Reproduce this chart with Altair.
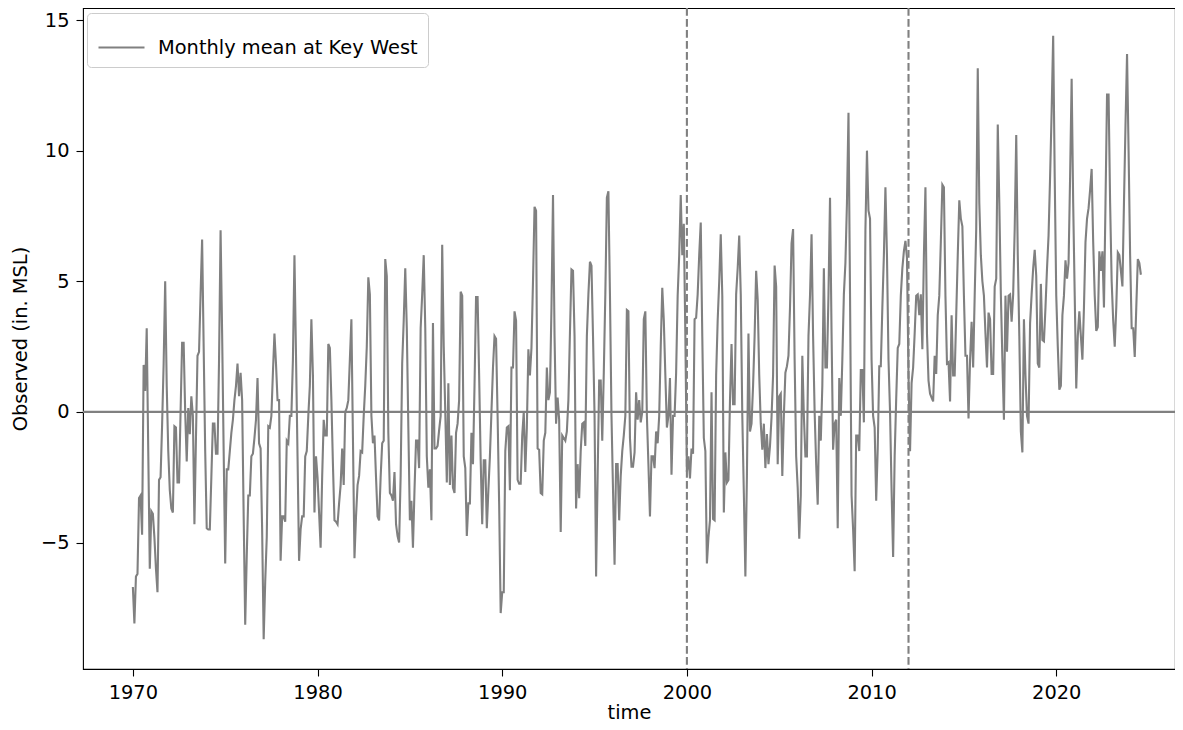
import altair as alt
import pandas as pd

# Monthly mean sea level at Key West (inches relative to MSL)
obs_1970s = [
    -6.7, -8.1, -6.3, -6.2, -3.3, -3.2, -4.7, 1.8, 0.8, 3.2, -1.5, -6.0,
    -3.8, -3.9, -4.8, -6.0, -6.9, -2.6, -2.5, -0.5, 1.85, 5.0, 1.0, -1.5,
    -3.0, -3.7, -3.85, -0.55, -0.6, -2.7, -2.7, 0.0, 2.65, 2.65, 0.0, -1.9,
    0.15, -0.85, 0.6, -0.15, -4.3, -1.0, 2.15, 2.3, 4.5, 6.6, 2.5, -1.5,
    -4.45, -4.5, -4.5, -2.5, -0.45, -0.45, -1.6, -1.6, 2.0, 6.95, 3.0, -1.5,
    -5.8, -2.2, -2.2, -1.5, -0.8, -0.3, 0.45, 1.0, 1.85, 0.6, 1.5, 0.45,
    -4.0, -8.15, -5.5, -3.2, -3.2, -1.7, -1.6, -1.0, -0.3, 1.3, -1.2, -1.4,
    -4.5, -8.7, -6.5, -4.8, -0.55, -0.6, -0.15, 1.5, 3.0, 1.85, 0.45, 0.45,
    -5.7, -4.0, -4.0, -4.2, -1.1, -1.2, -0.15, -0.15, 2.0, 6.0, 2.2, -1.7,
    -5.7, -4.5, -4.0, -4.0, -1.7, -1.5, -0.15, 1.0, 3.55, 1.4, -3.85, -1.7,
]
obs_1980s = [
    -2.5, -3.85, -5.2, -2.5, -0.3, -0.9, -0.9, 2.6, 2.45, 0.45, -2.0, -4.15,
    -4.2, -4.3, -3.5, -2.8, -1.4, -2.8, 0.0, 0.15, 0.45, 2.0, 3.55, -1.0,
    -5.6, -4.0, -2.8, -2.45, -1.5, -1.55, -0.15, 1.0, 2.5, 5.15, 4.5, -0.15,
    -1.2, -0.9, -2.5, -4.0, -4.15, -2.5, -1.2, -1.1, 5.85, 5.2, -0.8, -3.1,
    -3.2, -3.4, -2.3, -4.3, -4.75, -5.0, -2.45, 1.85, 3.5, 5.5, 3.2, -0.6,
    -4.15, -3.4, -5.2, -3.0, -1.1, -1.1, -2.15, 3.2, 4.5, 6.0, 3.2, -1.7,
    -2.9, -2.2, -4.15, 3.4, -1.4, -1.4, -1.3, -0.7, -0.15, 6.4, 2.5, 0.0,
    -2.7, 1.1, -2.8, -0.9, -2.9, -3.1, -0.8, -0.45, 0.45, 4.6, 4.45, -1.7,
    -2.15, -4.75, -3.5, -3.5, -0.8, -2.0, 1.0, 4.4, 4.4, 1.4, -1.85, -4.3,
    -1.85, -1.85, -4.45, -3.0, -1.7, 0.0, 1.7, 2.9, 2.8, -0.15, -3.5, -7.7,
]
obs_1990s = [
    -6.9, -6.9, -1.5, -0.6, -0.55, -3.0, 1.7, 1.7, 3.85, 3.5, -2.6, -2.75,
    -2.75, -0.9, 0.0, -2.3, -0.6, 2.4, 1.4, 2.45, 5.0, 7.85, 7.7, -1.4,
    -1.45, -3.1, -3.15, -1.1, -0.8, 1.7, 0.45, 0.75, 4.0, 8.3, 2.9, -0.45,
    0.55, -0.3, -4.6, -0.9, -1.0, -1.1, -0.75, 0.45, 3.0, 5.45, 5.4, 2.9,
    -3.7, -2.0, -3.3, -1.5, -0.45, -0.4, -1.3, 2.9, 4.5, 5.75, 5.6, 2.9,
    -0.15, -6.3, -2.45, 1.2, 1.2, -1.1, 1.5, 4.5, 8.2, 8.45, 4.5, -0.15,
    -3.0, -5.85, -2.0, -2.0, -4.15, -2.45, -1.5, -0.9, -0.15, 3.9, 3.85, -1.0,
    -2.1, -2.1, -1.55, 0.75, -0.3, 0.45, -0.4, 0.0, 3.55, 3.85, -0.15, -2.0,
    -4.0, -1.7, -1.7, -2.15, -0.75, -1.2, -0.15, 2.5, 4.75, 3.5, 1.4, -0.6,
    -0.15, 1.3, -2.4, -0.15, -0.15, 1.5, 4.45, 6.0, 8.3, 6.0, 7.2, 2.9,
]
obs_2000s = [
    -2.3, -1.7, -2.55, -1.4, -1.6, 3.55, 3.6, 4.5, 6.0, 7.25, 2.9, -1.0,
    -1.5, -5.8, -4.8, -4.15, 0.75, -4.1, -4.15, 1.4, 3.5, 5.0, 6.8, 4.45,
    -3.85, -1.55, -2.7, -2.6, 0.45, 2.6, 0.3, 0.3, 4.5, 5.5, 6.75, 4.5,
    -0.15, -3.1, -6.3, -2.45, 3.0, -0.75, -0.45, 1.0, 2.9, 5.4, 4.3, 1.4,
    -0.45, -1.45, -0.45, -2.15, -0.85, -2.0, -1.3, -0.2, 1.4, 5.6, 4.8, -2.0,
    0.6, 0.7, -2.45, -0.15, 1.5, 1.75, 2.15, 4.0, 6.45, 7.0, 2.0, -1.7,
    -2.9, -4.85, -3.2, 2.15, -0.15, -1.7, -1.7, 2.9, 4.45, 6.8, 2.9, 0.0,
    -2.0, -3.55, -0.15, -1.1, 1.0, 5.5, 1.7, 1.7, 4.5, 8.2, 3.0, -1.45,
    -0.45, -0.3, -4.45, 1.3, -0.15, 2.0, 4.5, 5.7, 8.0, 11.45, 4.5, -3.2,
    -4.5, -6.1, -0.9, -0.9, -1.5, 1.6, 1.6, -0.4, 6.95, 10.0, 7.7, 7.4,
]
obs_2010s = [
    2.0, -0.15, -0.6, -3.4, -1.4, 1.75, 1.75, 4.0, 6.0, 8.6, 6.0, 2.0,
    0.0, -3.0, -5.55, -1.7, 0.5, 2.45, 2.6, 4.45, 5.5, 6.15, 6.55, 5.9,
    1.4, -1.5, 1.1, 1.7, 3.0, 4.45, 4.5, 3.7, 4.5, 2.4, 6.0, 8.6,
    3.0, 1.2, 0.7, 0.55, 0.4, 2.15, 1.45, 3.7, 4.45, 6.5, 8.7, 8.6,
    4.45, 1.85, 1.9, 0.4, 3.7, 1.4, 1.4, 3.7, 6.0, 8.1, 7.4, 7.1,
    4.45, 2.15, 2.15, -0.25, 2.0, 3.45, 1.7, 4.45, 7.0, 13.15, 8.0, 6.0,
    5.0, 4.45, 3.0, 1.7, 3.8, 3.55, 1.45, 1.45, 4.8, 5.1, 11.0, 8.0,
    4.5, 2.0, -0.3, 4.45, 2.3, 4.45, 4.5, 3.45, 4.5, 7.0, 10.6, 6.0,
    2.9, -0.75, -1.55, 3.55, 1.4, -0.15, -0.45, 3.4, 4.5, 5.5, 6.2, 5.2,
    1.85, 1.7, 4.9, 2.75, 2.7, 4.0, 5.5, 6.75, 9.0, 11.5, 14.4, 9.0,
]
obs_2020s = [
    4.45, 2.5, 0.85, 1.0, 3.7, 4.45, 5.8, 5.1, 5.7, 9.0, 12.75, 8.0,
    4.45, 0.9, 2.9, 3.85, 2.9, 2.0, 4.0, 6.5, 7.4, 7.8, 8.5, 9.3,
    6.5, 4.45, 3.1, 3.25, 6.15, 5.4, 6.15, 4.0, 8.0, 12.15, 12.15, 8.0,
    5.0, 3.5, 2.5, 4.0, 6.1, 6.0, 5.4, 4.8, 8.0, 11.0, 13.7, 10.0,
    6.0, 3.2, 3.2, 2.1, 4.0, 5.85, 5.7, 5.25,
]

start_year = 1970
marker_years = [2000, 2012]
x_ticks = [1970, 1980, 1990, 2000, 2010, 2020]
y_ticks = [-5, 0, 5, 10, 15]
series_name = "Monthly mean at Key West"

values = obs_1970s + obs_1980s + obs_1990s + obs_2000s + obs_2010s + obs_2020s
months = list(range(len(values)))
df = pd.DataFrame({
    "time": [start_year + m / 12 for m in months],
    "obs": values,
    "series": [series_name] * len(values),
})

GRAY = "#808080"
FONT = "DejaVu Sans"
FS = 19.4
PLOT_W, PLOT_H = 1092, 661
x_scale = alt.Scale(domain=[1967.30, 2026.43], nice=False, zero=False)
y_scale = alt.Scale(domain=[-9.84, 15.46], nice=False, zero=False)

x_axis = alt.Axis(title="time", values=x_ticks, format="d", titleY=43,
                  titleBaseline="middle")
y_axis = alt.Axis(title="Observed (in. MSL)", values=y_ticks,
                  labelExpr="replace(datum.label, '-', '\u2212')",
                  titleX=-63, titleBaseline="middle")

line = alt.Chart(df).mark_line(strokeWidth=2.1, clip=True).encode(
    x=alt.X("time:Q", scale=x_scale, axis=x_axis),
    y=alt.Y("obs:Q", scale=y_scale, axis=y_axis),
    color=alt.Color(
        "series:N",
        scale=alt.Scale(domain=[series_name], range=[GRAY]),
        legend=alt.Legend(
            title=None, orient="none", legendX=4, legendY=5,
            symbolType="stroke", symbolSize=2116, symbolStrokeWidth=2.1,
            labelFontSize=FS, labelFont=FONT, labelColor="black",
            labelLimit=600, padding=10, strokeColor="#cccccc",
            fillColor="white", cornerRadius=4, labelOffset=12,
        ),
    ),
)

zero_line = alt.Chart(pd.DataFrame({"level": [0]})).mark_rule(
    color=GRAY, strokeWidth=2.1
).encode(y=alt.Y("level:Q", scale=y_scale, axis=y_axis))

vlines = alt.Chart(pd.DataFrame({"yr": marker_years})).mark_rule(
    color=GRAY, strokeWidth=2.1, strokeDash=[7.7, 3.3]
).encode(x=alt.X("yr:Q", scale=x_scale, axis=x_axis))

chart = alt.layer(line, zero_line, vlines).properties(
    width=PLOT_W, height=PLOT_H,
    autosize=alt.AutoSizeParams(type="none"),
    padding={"left": 75, "top": 0, "right": 0, "bottom": 53},
).configure_view(
    stroke="black", strokeWidth=1.1
).configure_axis(
    domain=False, grid=False, tickColor="black", tickSize=7, tickWidth=1.1,
    labelColor="black", titleColor="black", labelFont=FONT, titleFont=FONT,
    labelFontSize=FS, titleFontSize=FS, titleFontWeight="normal",
    labelPadding=7,
).configure_axisLeft(labelPadding=7)

chart.save("out.html", embed_options={"renderer": "svg", "actions": False})
